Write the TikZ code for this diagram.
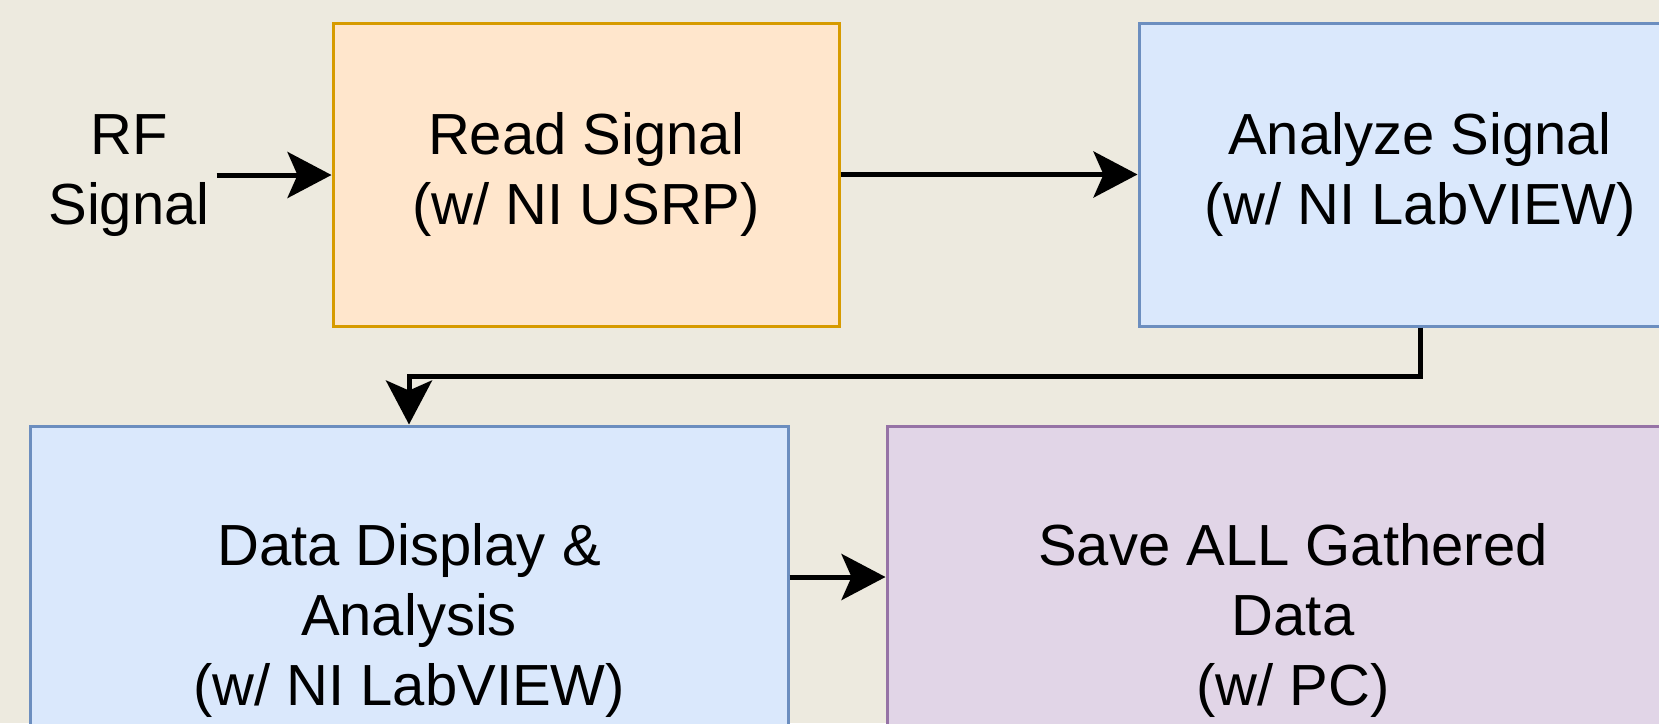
\documentclass[tikz,border=0pt]{standalone}
\usepackage{fontspec}
\setmainfont{Liberation Sans}
\usetikzlibrary{arrows.meta, positioning}

\definecolor{paper}{RGB}{237,234,223}
\definecolor{readfill}{HTML}{FFE6CC}
\definecolor{readline}{HTML}{D79B00}
\definecolor{bluefill}{HTML}{DAE8FC}
\definecolor{blueline}{HTML}{6C8EBF}
\definecolor{savefill}{HTML}{E1D5E7}
\definecolor{saveline}{HTML}{9673A6}

\begin{document}
\begin{tikzpicture}[x=0.5pt, y=-0.5pt,
	every node/.style={font=\fontsize{29}{35}\selectfont, align=center},
	block/.style={draw, line width=1.5pt, inner sep=0pt},
	flow/.style={line width=2.5pt, -{Stealth[length=22pt, width=23pt, inset=5pt]}}]

% Page and background
\useasboundingbox (0,0) rectangle (1659,723);
\clip (0,0) rectangle (1659,723);
\fill[paper] (0,0) rectangle (1659,723);

% Blocks of the chain
\node (rf) at (129,176) {RF\\Signal};
\node[block, fill=readfill, draw=readline, minimum width=253pt, minimum height=151.5pt] (read) at (586,174.5) {Read Signal\\(w/ NI USRP)};
\node[block, fill=bluefill, draw=blueline, minimum width=281pt, minimum height=151.5pt] (analyze) at (1420,174.5) {Analyze Signal\\(w/ NI LabVIEW)};
\node[block, fill=bluefill, draw=blueline, minimum width=379pt, minimum height=194pt] (data) at (409,620) {Data Display \&\\Analysis\\(w/ NI LabVIEW)};
\node[block, fill=savefill, draw=saveline, minimum width=406pt, minimum height=194pt] (save) at (1293,620) {Save ALL Gathered\\Data\\(w/ PC)};

% Connectors
\draw[flow] (rf.east) ++(0,-1) coordinate (rfout) (rfout) -- (rfout -| read.west);
\draw[flow] (read) -- (analyze);
\draw[flow] (analyze.south) -- ++(0,49) -| (data.north);
\draw[flow] ([yshift=21.5pt]data.east) -- ([yshift=21.5pt]save.west);

\end{tikzpicture}
\end{document}
